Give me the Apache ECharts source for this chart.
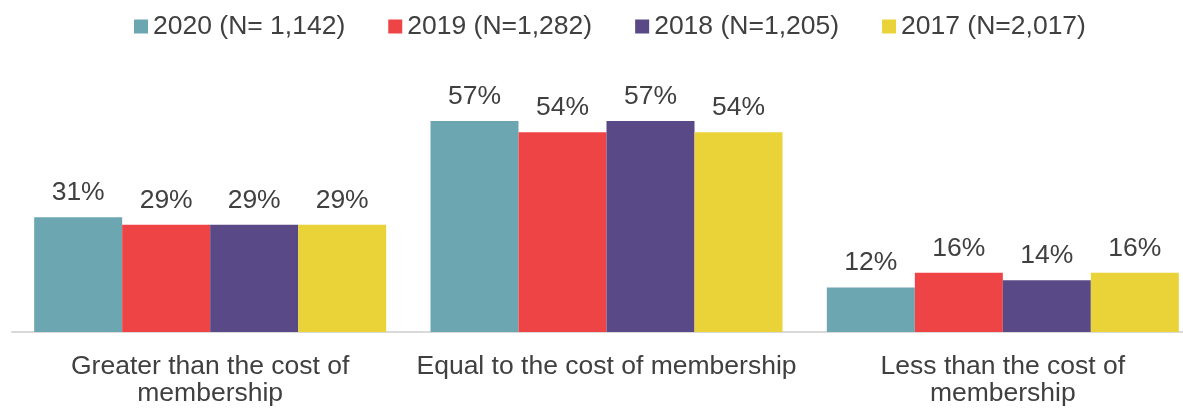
<!DOCTYPE html>
<html>
<head>
<meta charset="utf-8">
<script src="https://cdn.jsdelivr.net/npm/echarts@6/dist/echarts.min.js"></script>
<style>
  html, body { margin: 0; padding: 0; background: #ffffff; }
  #chart { width: 1183px; height: 408px; }
</style>
</head>
<body>
<div id="chart"></div>
<script>
// Perceived value of membership, by survey year
const categories = [
  'Greater than the cost of\nmembership',
  'Equal to the cost of membership',
  'Less than the cost of\nmembership'
];
const seriesNames = ['2020 (N= 1,142)', '2019 (N=1,282)', '2018 (N=1,205)', '2017 (N=2,017)'];
const values2020 = [31, 57, 12];
const values2019 = [29, 54, 16];
const values2018 = [29, 57, 14];
const values2017 = [29, 54, 16];
const colors = ['#6CA7B1', '#EF4446', '#5A4987', '#EAD338'];

const FONT = "'Liberation Sans', Arial, sans-serif";
const TEXT = '#404040';
const FS = 26.5;

const allValues = [values2020, values2019, values2018, values2017];

const chart = echarts.init(document.getElementById('chart'), null, { renderer: 'canvas' });

chart.setOption({
  animation: false,
  backgroundColor: '#ffffff',
  textStyle: { fontFamily: FONT },
  legend: {
    top: 8,
    left: 129,
    itemWidth: 14,
    itemHeight: 14,
    itemGap: 43,
    icon: 'rect',
    textStyle: { fontSize: FS, color: TEXT, fontFamily: FONT },
    data: seriesNames
  },
  // the plot runs slightly past the right edge of the canvas
  grid: { left: 12, width: 1189, top: 110, bottom: 76, outerBoundsMode: 'none' },
  xAxis: {
    type: 'category',
    data: categories,
    axisLine: { show: true, lineStyle: { color: '#D9D9D9', width: 2 } },
    axisTick: { show: false },
    axisLabel: {
      interval: 0,
      margin: 21,
      fontSize: FS,
      lineHeight: 27,
      color: TEXT,
      fontFamily: FONT
    }
  },
  yAxis: {
    type: 'value',
    min: 0,
    max: 60,
    show: false,
    splitLine: { show: false }
  },
  series: seriesNames.map((name, i) => ({
    name: name,
    type: 'bar',
    data: allValues[i],
    barWidth: 88,
    barGap: '0%',
    itemStyle: { color: colors[i] },
    label: {
      show: true,
      position: 'top',
      distance: 11,
      formatter: '{c}%',
      fontSize: FS,
      color: TEXT,
      fontFamily: FONT
    }
  }))
});
</script>
</body>
</html>
